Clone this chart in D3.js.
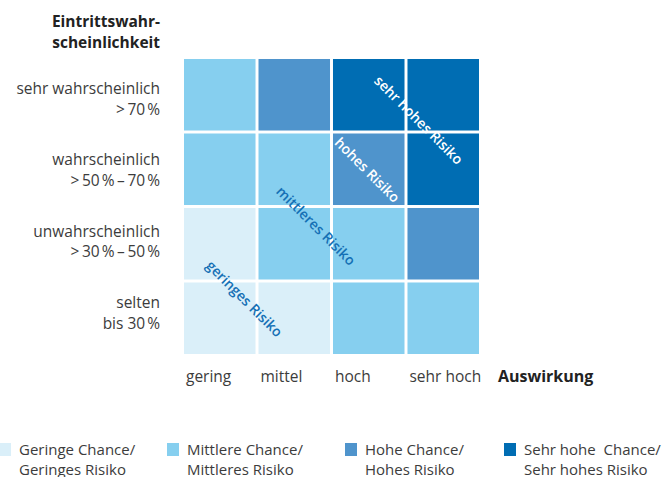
<!DOCTYPE html>
<html lang="de">
<head>
<meta charset="UTF-8">
<title>Risikomatrix</title>
<style>
    body {
        margin: 0;
        font-family: "Open Sans", sans-serif;
        background: #fff;
    }
    svg {
        display: block;
    }
    .lbl {
        fill: #3c3c3c;
        font-size: 15.5px;
    }
    .leg {
        fill: #3c3c3c;
        font-size: 15px;
    }
    .title {
        fill: #222;
        font-size: 15.5px;
        font-weight: bold;
    }
    .risk {
        font-size: 14px;
        font-weight: 600;
    }
</style>
</head>
<body>
<div id="chart"></div>
<script src="https://d3js.org/d3.v7.min.js"></script>
<script>
    // data
    var impact = ["gering", "mittel", "hoch", "sehr hoch"];
    var likelihood = ["sehr wahrscheinlich", "wahrscheinlich", "unwahrscheinlich", "selten"];
    var likelihoodSub = [">\u200970\u202F%", ">\u200950\u202F%\u2009\u2013\u200970\u202F%", ">\u200930\u202F%\u2009\u2013\u200950\u202F%", "bis 30\u202F%"];
    // risk level per cell, rows top -> bottom, columns left -> right
    var levels = [
        [2, 3, 4, 4],
        [2, 2, 3, 4],
        [1, 2, 2, 3],
        [1, 1, 2, 2]
    ];
    var levelNames = [
        ["Geringe Chance/", "Geringes Risiko"],
        ["Mittlere Chance/", "Mittleres Risiko"],
        ["Hohe Chance/", "Hohes Risiko"],
        ["Sehr hohe  Chance/", "Sehr hohes Risiko"]
    ];
    var riskLabels = ["sehr hohes Risiko", "hohes Risiko", "mittleres Risiko", "geringes Risiko"];

    var colors = ["#daeff9", "#86cfef", "#4f94cc", "#006db3"];

    var width = 672, height = 477;
    var svg = d3.select("#chart").append("svg")
        .attr("width", width)
        .attr("height", height);

    var x = d3.scaleBand().domain(impact).range([184, 479]).paddingInner(0.04);
    var y = d3.scaleBand().domain(likelihood).range([59, 354]).paddingInner(0.04);
    // row labels sit on a slightly tighter spacing than the cells
    var yLab = d3.scalePoint().domain(likelihood).range([94, 308]);
    var color = d3.scaleOrdinal().domain([1, 2, 3, 4]).range(colors);

    var cells = [];
    levels.forEach(function(row, r) {
        row.forEach(function(v, c) {
            cells.push({row: likelihood[r], col: impact[c], level: v});
        });
    });

    svg.append("g").selectAll("rect")
        .data(cells)
        .enter().append("rect")
        .attr("x", function(d) { return x(d.col); })
        .attr("y", function(d) { return y(d.row); })
        .attr("width", x.bandwidth())
        .attr("height", y.bandwidth())
        .style("fill", function(d) { return color(d.level); });

    // diagonal risk labels, placed in grid units
    var riskPos = [[3.15, 0.82, "#fff"], [2.46, 1.49, "#fff"], [1.77, 2.24, "#1570b5"], [0.81, 3.22, "#1570b5"]];
    svg.append("g").selectAll("text")
        .data(riskLabels)
        .enter().append("text")
        .attr("class", "risk")
        .attr("text-anchor", "middle")
        .attr("dy", "0.35em")
        .attr("transform", function(d, i) {
            var px = x.range()[0] + riskPos[i][0] * x.step();
            var py = y.range()[0] + riskPos[i][1] * y.step();
            return "translate(" + px + "," + py + ") rotate(45)";
        })
        .style("fill", function(d, i) { return riskPos[i][2]; })
        .text(function(d) { return d; });

    // y labels
    var yl = svg.append("g").selectAll("g")
        .data(likelihood)
        .enter().append("g")
        .attr("transform", function(d) { return "translate(160," + yLab(d) + ")"; });
    yl.append("text")
        .attr("class", "lbl")
        .attr("text-anchor", "end")
        .text(function(d) { return d; });
    yl.append("text")
        .attr("class", "lbl")
        .attr("text-anchor", "end")
        .attr("y", 20.5)
        .text(function(d, i) { return likelihoodSub[i]; });

    svg.append("text").attr("class", "title")
        .attr("text-anchor", "end").attr("x", 160).attr("y", 27)
        .text("Eintrittswahr-");
    svg.append("text").attr("class", "title")
        .attr("text-anchor", "end").attr("x", 160).attr("y", 48)
        .text("scheinlichkeit");

    // x labels
    svg.append("g").selectAll("text")
        .data(impact)
        .enter().append("text")
        .attr("class", "lbl")
        .attr("x", function(d) { return x(d) + 2; })
        .attr("y", 382)
        .text(function(d) { return d; });

    svg.append("text").attr("class", "title")
        .attr("x", 498).attr("y", 382)
        .style("font-size", "16px")
        .text("Auswirkung");

    // legend
    var legX = [-1, 167, 345, 504];
    var leg = svg.append("g").selectAll("g")
        .data(levelNames)
        .enter().append("g")
        .attr("transform", function(d, i) { return "translate(" + legX[i] + ",443)"; });
    leg.append("rect")
        .attr("width", 12)
        .attr("height", 13)
        .style("fill", function(d, i) { return colors[i]; });
    leg.append("text")
        .attr("class", "leg")
        .attr("x", 20)
        .attr("y", 12)
        .style("white-space", "pre")
        .text(function(d) { return d[0]; });
    leg.append("text")
        .attr("class", "leg")
        .attr("x", 20)
        .attr("y", 32)
        .text(function(d) { return d[1]; });
</script>
</body>
</html>
